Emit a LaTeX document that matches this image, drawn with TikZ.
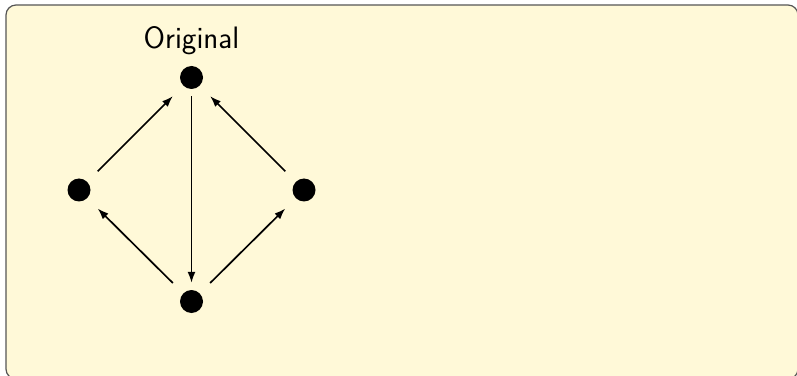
\documentclass[tikz,border=0pt]{standalone}
\usepackage{xcolor}
\usetikzlibrary{arrows.meta,positioning}
\definecolor{blockbg}{HTML}{FFF9D8}
\definecolor{blockrule}{HTML}{555555}
\definecolor{ink}{HTML}{000000}

\begin{document}
\begin{tikzpicture}[
  x=1pt,y=1pt,
  font=\sffamily,
  >={Latex[length=11pt,width=8pt]},
  arrow/.style={->,line width=1.7pt,draw=ink},
  dot/.style={rectangle,minimum size=37pt,inner sep=0pt,
              path picture={\fill[ink] (path picture bounding box.center) circle (11.5pt);}},
  caption/.style={font=\sffamily\fontsize{31}{36}\selectfont,text=ink}
]
\useasboundingbox (0,0) rectangle (797,375);

% Block background, cut at the right and bottom edge
\begin{scope}
  \clip (0,0) rectangle (797,375);
  \draw[blockrule,fill=blockbg,line width=1.2pt,rounded corners=10pt]
    (6,-4) rectangle (798,370);
\end{scope}

% Vertices
\node[dot] (top) at (191.5,297.5) {};
\node[dot] (left) at (79,185) {};
\node[dot] (right) at (304,185) {};
\node[dot] (bottom) at (191.5,73.5) {};
\node[caption] (orig) at (191.5,334) {Original};

% Edges
\draw[arrow] (left) -- (top);
\draw[arrow] (right) -- (top);
\draw[arrow] (top) -- (bottom);
\draw[arrow] (bottom) -- (left);
\draw[arrow] (bottom) -- (right);

\end{tikzpicture}
\end{document}
